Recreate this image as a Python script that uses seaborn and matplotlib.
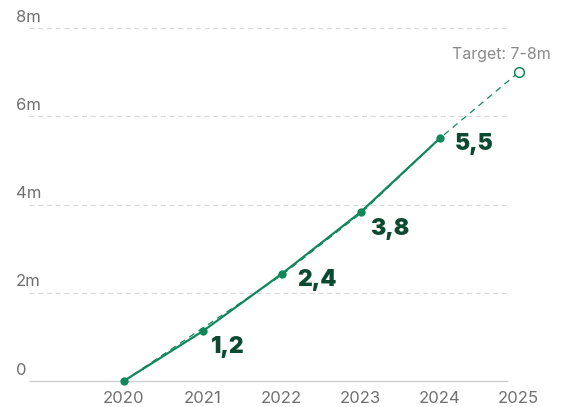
import matplotlib
matplotlib.use("Agg")
import matplotlib.pyplot as plt
import matplotlib.transforms as mtransforms
import seaborn as sns
import pandas as pd

years = [2020, 2021, 2022, 2023, 2024]
actual = [0.0, 1.13, 2.43, 3.83, 5.5]
labels = ["1,2", "2,4", "3,8", "5,5"]
trend_years = [2020, 2021, 2022, 2023, 2024, 2025]
trend = [0.0, 1.2, 2.4, 3.8, 5.5, 7.0]
target_year = 2025
target_value = 7.0
target_text = "Target: 7-8m"
ytick_values = [0, 2, 4, 6, 8]
ytick_labels = ["0", "2m", "4m", "6m", "8m"]
xtick_values = [2020, 2021, 2022, 2023, 2024, 2025]

GREEN = "#13875c"
DARK = "#0b4a30"
GREY = "#707070"

# label offsets from the point, in pixels (dx to left edge, dy to centre)
label_offsets = [(8, 13), (15, 4), (9, 14), (15, 3)]
PX = 0.72  # points per pixel at dpi 100

sns.set_theme(style="white")
plt.rcParams["font.family"] = ["Inter", "DejaVu Sans"]

fig = plt.figure(figsize=(5.81, 4.07), dpi=100)
ax = fig.add_axes([29 / 581, 26 / 407, 513.5 / 581, 353 / 407])
x0, x1 = 2018.8, 2025.3
grid_end = 2024.86
ax.set_xlim(x0, x1)
ax.set_ylim(0, 8)

# gridlines + baseline
for v in ytick_values[1:]:
    ax.hlines(v, x0, grid_end, colors="#d9d9d9", linestyles=(0, (4, 3)), linewidth=0.9, zorder=0)
ax.hlines(0, x0, grid_end, colors="#cfcfcf", linewidth=1.0, zorder=0, clip_on=False)

df = pd.DataFrame({"year": years, "value": actual})
tdf = pd.DataFrame({"year": trend_years, "value": trend})

sns.lineplot(data=tdf, x="year", y="value", ax=ax, color=GREEN, linestyle=(0, (5, 4)),
             linewidth=0.9, zorder=2)
sns.lineplot(data=df, x="year", y="value", ax=ax, color=GREEN, linewidth=1.6,
             marker="o", markersize=6, markeredgewidth=0, zorder=3)
ax.plot([target_year], [target_value], marker="o", markersize=7, markerfacecolor="white",
        markeredgecolor=GREEN, markeredgewidth=1.1, linestyle="none", zorder=4, clip_on=False)
for ln in ax.lines:
    ln.set_clip_on(False)

for yr, val, lab, (dx, dy) in zip(years[1:], actual[1:], labels, label_offsets):
    ax.annotate(lab, (yr, val), xytext=(dx * PX, -dy * PX), textcoords="offset points",
                ha="left", va="center_baseline", fontsize=16.5, fontweight=900, color=DARK)

ax.annotate(target_text, (target_year, target_value), xytext=(-48, 7), textcoords="offset points",
            ha="left", va="bottom", fontsize=11.5, color="#8a8a8a")

# y labels sitting above gridlines
trans = mtransforms.blended_transform_factory(fig.transFigure, ax.transData)
for v, lab in zip(ytick_values, ytick_labels):
    ax.annotate(lab, (16 / 581, v), xycoords=trans, xytext=(0, 2.5), textcoords="offset points",
                ha="left", va="bottom", fontsize=12, color=GREY, annotation_clip=False)

ax.set_yticks([])
ax.set_xticks(xtick_values)
ax.set_xticklabels([str(x) for x in xtick_values])
ax.tick_params(axis="x", length=0, pad=7, labelsize=12, labelcolor=GREY)
ax.set_xlabel("")
ax.set_ylabel("")
sns.despine(ax=ax, left=True, bottom=True)

fig.savefig("out.png", dpi=100)
